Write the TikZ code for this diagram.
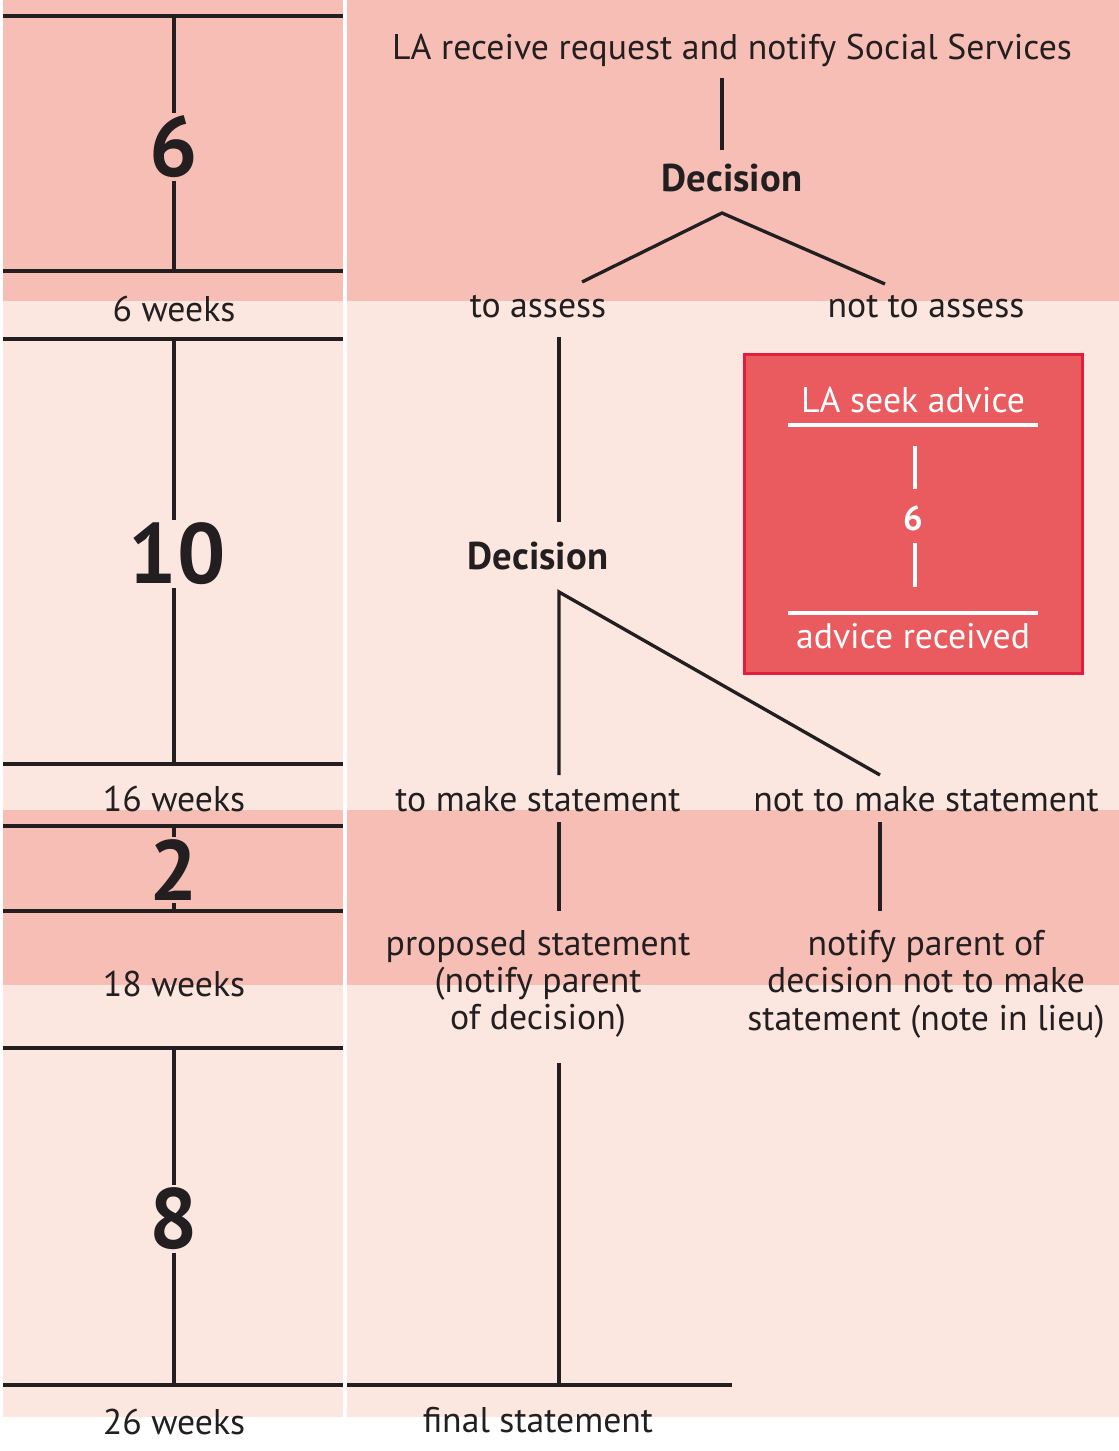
\documentclass[tikz,border=0pt]{standalone}
\usepackage{fontspec}
\setmainfont{PT Sans}
\usetikzlibrary{calc,positioning}
\definecolor{palepink}{HTML}{FCE6E0}
\definecolor{bandpink}{HTML}{F7BEB6}
\definecolor{advicered}{HTML}{E95B5E}
\definecolor{adviceedge}{HTML}{E31E3C}
\definecolor{ink}{HTML}{231F20}

\begin{document}
\begin{tikzpicture}[
	x=0.75pt,y=-0.75pt,
	stage/.style={
		font=\fontsize{26.8}{28}\selectfont,
		text=ink,
		align=center,
		inner sep=0pt
	},
	decision/.style={stage,font=\fontsize{29}{28}\selectfont\bfseries},
	bignum/.style={
		font=\fontsize{64}{64}\selectfont\bfseries,
		text=ink,
		inner sep=2pt
	},
	ruler/.style={draw=ink,line width=2.5pt},
	advicetext/.style={font=\fontsize{26.8}{28}\selectfont,text=white,inner sep=0pt},
	adviceline/.style={draw=white,line width=2.5pt}]

	%%% Background
	\useasboundingbox (0,0) rectangle (1119,1451);
	\fill[palepink] (3,0) rectangle (343,1417);
	\fill[palepink] (347,0) rectangle (1119,1417);
	%% darker bands
	\fill[bandpink] (3,0) rectangle (343,301);
	\fill[bandpink] (347,0) rectangle (1119,301);
	\fill[bandpink] (3,810) rectangle (343,985);
	\fill[bandpink] (347,810) rectangle (1119,985);

	%%% Timeline
	\foreach \y in {16,271,339,764,826,911,1048,1385}
		\draw[ruler] (3,\y) -- (343,\y);

	\coordinate (t0) at (174,16);
	\coordinate (t1) at (174,271);
	\coordinate (t2) at (174,339);
	\coordinate (t3) at (174,764);
	\coordinate (t4) at (174,826);
	\coordinate (t5) at (174,911);
	\coordinate (t6) at (174,1048);
	\coordinate (t7) at (174,1385);

	\node at (174,147) [bignum] (spanA) {6};
	\node at (177,554) [bignum] (spanB) {10};
	\node at (174,870) [bignum] (spanC) {2};
	\node at (174,1219) [bignum] (spanD) {8};

	\draw[ruler] (t0) -- (t0 |- spanA.north);
	\draw[ruler] (t1 |- spanA.south) -- (t1);
	\draw[ruler] (t2) -- (t2 |- spanB.north);
	\draw[ruler] (t3 |- spanB.south) -- (t3);
	\draw[ruler] (t4) -- (t4 |- spanC.north);
	\draw[ruler] (t5 |- spanC.south) -- (t5);
	\draw[ruler] (t6) -- (t6 |- spanD.north);
	\draw[ruler] (t7 |- spanD.south) -- (t7);

	\node at (174,309) [stage] (wk6) {6 weeks};
	\node at (174,799) [stage] (wk16) {16 weeks};
	\node at (174,984) [stage] (wk18) {18 weeks};
	\node at (174,1422) [stage] (wk26) {26 weeks};

	%%% Procedure
	\node at (732,50) [stage] (request) {LA receive request and notify Social Services};
	\node at (732,178) [decision] (decideassess) {Decision};
	\node at (538,307) [stage] (assess) {to assess};
	\node at (926,307) [stage] (noassess) {not to assess};
	\node at (538,556) [decision] (decidestatement) {Decision};
	\node at (538,799) [stage] (makestatement) {to make statement};
	\node at (926,799) [stage] (nostatement) {not to make statement};
	\node at (538,984) [stage] (proposed) {proposed statement\\(notify parent\\of decision)};
	\node at (926,984) [stage] (notelieu) {notify parent of\\decision not to make\\statement (note in lieu)};
	\node at (538,1420) [stage] (final) {final statement};

	\draw[ruler] ($(request)+(-10,28)$) -- ($(decideassess)+(-10,-28)$);
	\draw[ruler] ($(assess)+(44,-25)$) -- ($(decideassess)+(-10,35)$) -- ($(noassess)+(-41,-23)$);
	\draw[ruler] ($(assess)+(21,30)$) -- ($(decidestatement)+(21,-34)$);
	\draw[ruler] ($(makestatement)+(21,-24)$) -- ($(decidestatement)+(21,36)$) -- ($(nostatement)+(-46,-24)$);
	\draw[ruler] ($(makestatement)+(21,23)$) -- ($(proposed)+(21,-73)$);
	\draw[ruler] ($(nostatement)+(-46,23)$) -- ($(notelieu)+(-46,-73)$);
	\draw[ruler] ($(proposed)+(21,79)$) -- ($(final)+(21,-35)$);
	\draw[ruler] ($(final)+(-191,-35)$) -- ($(final)+(194,-35)$);

	%%% Advice box
	\node at (913.5,514) [draw=adviceedge,fill=advicered,line width=2.2pt,
		minimum width=253.5pt,minimum height=239.3pt] (advicebox) {};
	\node at (913,400) [advicetext] (seek) {LA seek advice};
	\node at (913,518) [advicetext,font=\fontsize{26}{28}\selectfont\bfseries] (advicesix) {6};
	\node at (913,636) [advicetext] (received) {advice received};

	\draw[adviceline] ($(seek)+(-125,25)$) -- ($(seek)+(125,25)$);
	\draw[adviceline] ($(advicesix)+(2,-72)$) -- ($(advicesix)+(2,-29)$);
	\draw[adviceline] ($(advicesix)+(2,25)$) -- ($(advicesix)+(2,69)$);
	\draw[adviceline] ($(received)+(-125,-23)$) -- ($(received)+(125,-23)$);
\end{tikzpicture}
\end{document}
